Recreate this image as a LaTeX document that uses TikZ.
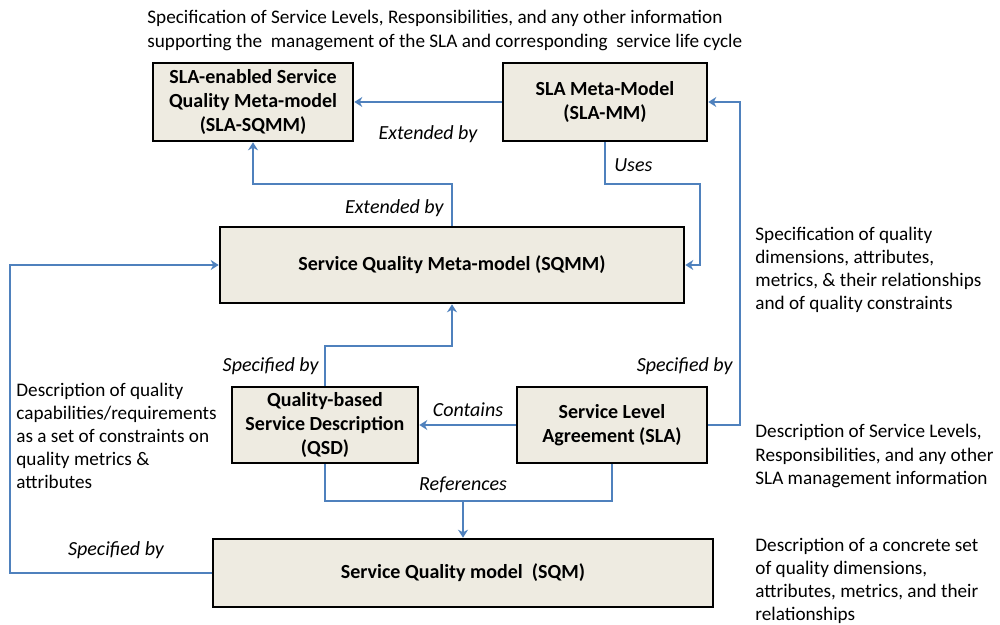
\documentclass[tikz,border=0pt]{standalone}
\usepackage{fontspec}
\setmainfont{Carlito}
\usepackage{tikz}
\usetikzlibrary{arrows.meta}
\definecolor{boxfill}{RGB}{238,235,225}
\definecolor{linkblue}{RGB}{79,129,189}
\newcommand{\dfont}{\fontsize{9.6pt}{11.6pt}\selectfont}
\newcommand{\bfont}{\fontsize{10pt}{12.2pt}\selectfont}
\tikzset{
	mbox/.style={draw=black, line width=1.3pt, fill=boxfill, font=\bfont\bfseries, align=center, inner sep=0pt},
	wire/.style={draw=linkblue, line width=1pt},
	link/.style={wire, -{Stealth[length=4pt,width=5pt]}},
	lbl/.style={font=\bfont\itshape, inner sep=1pt},
	note/.style={font=\dfont, align=left, anchor=west, inner sep=0pt}
}

\begin{document}
\begin{tikzpicture}[x=0.5pt, y=-0.5pt]
			%%%%% START %%%%%
			
			\useasboundingbox (0, 0) rectangle (1000, 625);
			
			\node[note] (toptext) at (147, 30.5) {Specification of Service Levels, Responsibilities, and any other information\\supporting the\ \ management of the SLA and corresponding\ \ service life cycle};
			
			\node[mbox, minimum width=100pt, minimum height=39pt] (slasqmm) at (253, 102) {SLA-enabled Service\\Quality Meta-model\\(SLA-SQMM)};
			\node[mbox, minimum width=102pt, minimum height=39pt] (slamm) at (605, 102) {SLA Meta-Model\\(SLA-MM)};
			\node[mbox, minimum width=232pt, minimum height=38pt] (sqmm) at (452, 265) {Service Quality Meta-model (SQMM)};
			\node[mbox, minimum width=93pt, minimum height=38pt] (qsd) at (325, 425) {Quality-based\\Service Description\\(QSD)};
			\node[mbox, minimum width=95pt, minimum height=38pt] (sla) at (612, 425) {Service Level\\Agreement (SLA)};
			\node[mbox, minimum width=250pt, minimum height=34pt] (sqm) at (463, 573) {Service Quality model\ \ (SQM)};
			
			\draw[link] (slamm.west) -- (slasqmm.east);
			\draw[link] (slamm.south) |- (700, 184) |- (sqmm.east);
			\draw[link] (sqmm.north) |- (253, 184) -- (slasqmm.south);
			\draw[link] (sqm.west) -| (10, 265) -- (sqmm.west);
			\draw[link] (qsd.north) |- (452, 346) -- (sqmm.south);
			\draw[link] (sla.west) -- (qsd.east);
			\draw[link] (sla.east) -| (740, 102) -- (slamm.east);
			
			\coordinate (refs) at (463, 501);
			\draw[wire] (qsd.south) |- (refs) -| (sla.south);
			\draw[link] (refs) -- (sqm.north);
			
			\node[lbl] (extA) at (428, 134) {Extended by};
			\node[lbl, anchor=west] (uses) at (612, 165) {Uses};
			\node[lbl, anchor=east] (extB) at (446, 208) {Extended by};
			\node[lbl, anchor=east] (specA) at (321, 366) {Specified by};
			\node[lbl, anchor=east] (specB) at (735, 366) {Specified by};
			\node[lbl] (contains) at (468, 410) {Contains};
			\node[lbl] (references) at (463, 485) {References};
			\node[lbl] (specC) at (116, 550) {Specified by};
			
			\node[note] (noteqsd) at (16, 436) {Description of quality\\capabilities/requirements\\as a set of constraints on\\quality metrics \&\\attributes};
			\node[note] (notesqmm) at (755, 270) {Specification of quality\\dimensions, attributes,\\metrics, \& their relationships\\and of quality constraints};
			\node[note] (notesla) at (755, 456) {Description of Service Levels,\\Responsibilities, and any other\\SLA management information};
			\node[note] (notesqm) at (755, 581) {Description of a concrete set\\of quality dimensions,\\attributes, metrics, and their\\relationships};
			
			%%%%% END %%%%%
\end{tikzpicture}
\end{document}
